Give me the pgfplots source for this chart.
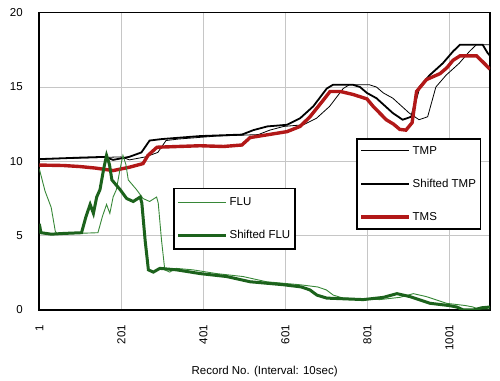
\documentclass[border=0pt]{standalone}
\usepackage{fontspec}
\setmainfont{Liberation Sans}
\usepackage{pgfplots}
\usepackage{pgfplotstable}
\pgfplotsset{compat=1.18}
\definecolor{tmsred}{RGB}{178,24,24}
\definecolor{fluthin}{RGB}{55,135,55}
\definecolor{fluthick}{RGB}{28,98,28}

\pgfplotstableread{
x y
1 10.15
140 10.25
200 10.3
221 10.1
260 10.3
290 10.6
310 11.4
340 11.5
433 11.7
535 11.8
563 12.1
597 12.35
645 12.46
677 12.9
709 13.7
742 14.9
757 15.15
806 15.15
823 15.0
840 14.6
863 14.25
903 13.25
927 12.8
948 13.0
968 15.0
993 15.8
1025 16.6
1050 17.4
1067 17.85
1100 17.85
}\tmp

\pgfplotstableread{
x y
1 10.15
100 10.25
160 10.3
181 10.1
220 10.3
250 10.6
270 11.4
300 11.5
393 11.7
495 11.8
523 12.1
557 12.35
605 12.46
637 12.9
669 13.7
702 14.9
717 15.15
766 15.15
783 15.0
800 14.6
823 14.25
863 13.25
887 12.8
908 13.0
928 15.0
953 15.8
985 16.6
1010 17.4
1027 17.85
1082 17.85
1094 17.3
1100 17.1
}\stmp

\pgfplotstableread{
x y
1 9.75
60 9.72
100 9.65
137 9.55
181 9.38
220 9.6
254 9.85
266 10.4
288 10.95
340 11.0
393 11.05
450 11.0
495 11.1
515 11.6
560 11.8
605 12.0
637 12.35
661 13.0
693 14.1
710 14.7
735 14.7
766 14.5
800 14.2
815 13.7
847 12.8
865 12.5
880 12.15
895 12.1
910 12.6
921 14.7
945 15.5
978 15.9
995 16.3
1010 16.8
1027 17.1
1067 17.1
1082 16.7
1100 16.2
}\tms

\pgfplotstableread{
x y
1 9.5
15 8.0
30 6.9
40 5.3
45 5.1
90 5.15
144 5.2
155 6.3
165 7.1
173 6.5
181 7.6
189 8.1
198 9.5
205 10.4
212 9.8
218 8.75
238 8.1
254 7.5
270 7.3
287 7.6
291 7.2
299 4.7
307 2.7
319 2.55
335 2.8
376 2.7
433 2.45
498 2.25
555 1.9
636 1.7
680 1.55
701 1.35
718 1.0
742 0.8
831 0.7
880 0.85
913 1.1
945 0.9
994 0.45
1040 0.3
1059 0.2
1075 0.0
1100 0.0
}\flu

\pgfplotstableread{
x y
1 5.8
5 5.2
30 5.1
60 5.15
104 5.2
115 6.3
125 7.1
133 6.5
141 7.6
149 8.1
158 9.5
165 10.4
172 9.8
178 8.75
198 8.1
214 7.5
230 7.3
247 7.6
251 7.2
259 4.7
267 2.7
279 2.55
295 2.8
336 2.7
393 2.45
458 2.25
515 1.9
596 1.7
640 1.55
661 1.35
678 1.0
702 0.8
791 0.7
840 0.85
873 1.1
905 0.9
954 0.45
1000 0.3
1019 0.2
1035 0.0
1059 0.0
1080 0.15
1100 0.2
}\sflu

\pgfplotsset{
  common/.style={
    width=450.7bp, height=297.3bp, scale only axis,
    at={(0,0)}, anchor=south west,
    xmin=1, xmax=1100, ymin=0, ymax=20,
    legend cell align=left,
    legend image code/.code={\draw[##1] (0bp,0bp) -- (48bp,0bp);},
    legend style={draw=black, line width=1.6bp, fill=white, anchor=north west,
      font=\fontsize{11.5bp}{13bp}\selectfont,
      inner xsep=2.5bp, inner ysep=5bp, row sep=19.5bp,
      /tikz/every even column/.append style={column sep=3bp}},
  }
}

\begin{document}
\begin{tikzpicture}
\begin{axis}[common,
  axis line style={line width=1.6bp},
  xtick={1,201,401,601,801,1001},
  ytick={0,5,10,15,20},
  grid=major,
  major grid style={gray!45, line width=0.6bp},
  major tick length=0pt,
  /pgf/number format/assume math mode=true,
  /pgf/number format/1000 sep={},
  tick label style={font=\fontsize{11.5bp}{13bp}\selectfont},
  yticklabel style={anchor=east, xshift=-13bp},
  xticklabel style={yshift=-11.5bp, rotate=90, anchor=east},
  xlabel={Record No. (Interval: 10sec)},
  xlabel style={font=\fontsize{11.5bp}{13bp}\selectfont, at={(axis description cs:0.5,0)}, anchor=base, yshift=-64bp},
  legend style={at={(axis description cs:0.7027,0.5775)}},
]
\addplot[black, line width=0.8bp] table {\tmp};
\addlegendentry{TMP}
\addplot[black, line width=1.8bp] table {\stmp};
\addlegendentry{Shifted TMP}
\addplot[tmsred, line width=3.4bp] table {\tms};
\addlegendentry{TMS}
\end{axis}
\begin{axis}[common, hide axis,
  legend style={at={(axis description cs:0.2973,0.4114)}, inner ysep=7bp},
]
\addplot[fluthin, line width=0.9bp] table {\flu};
\addlegendentry{FLU}
\addplot[fluthick, line width=3bp] table {\sflu};
\addlegendentry{Shifted FLU\hspace{12bp}}
\end{axis}
\path (-39.3bp,-71bp) rectangle (460.7bp,310bp);
\end{tikzpicture}
\end{document}
